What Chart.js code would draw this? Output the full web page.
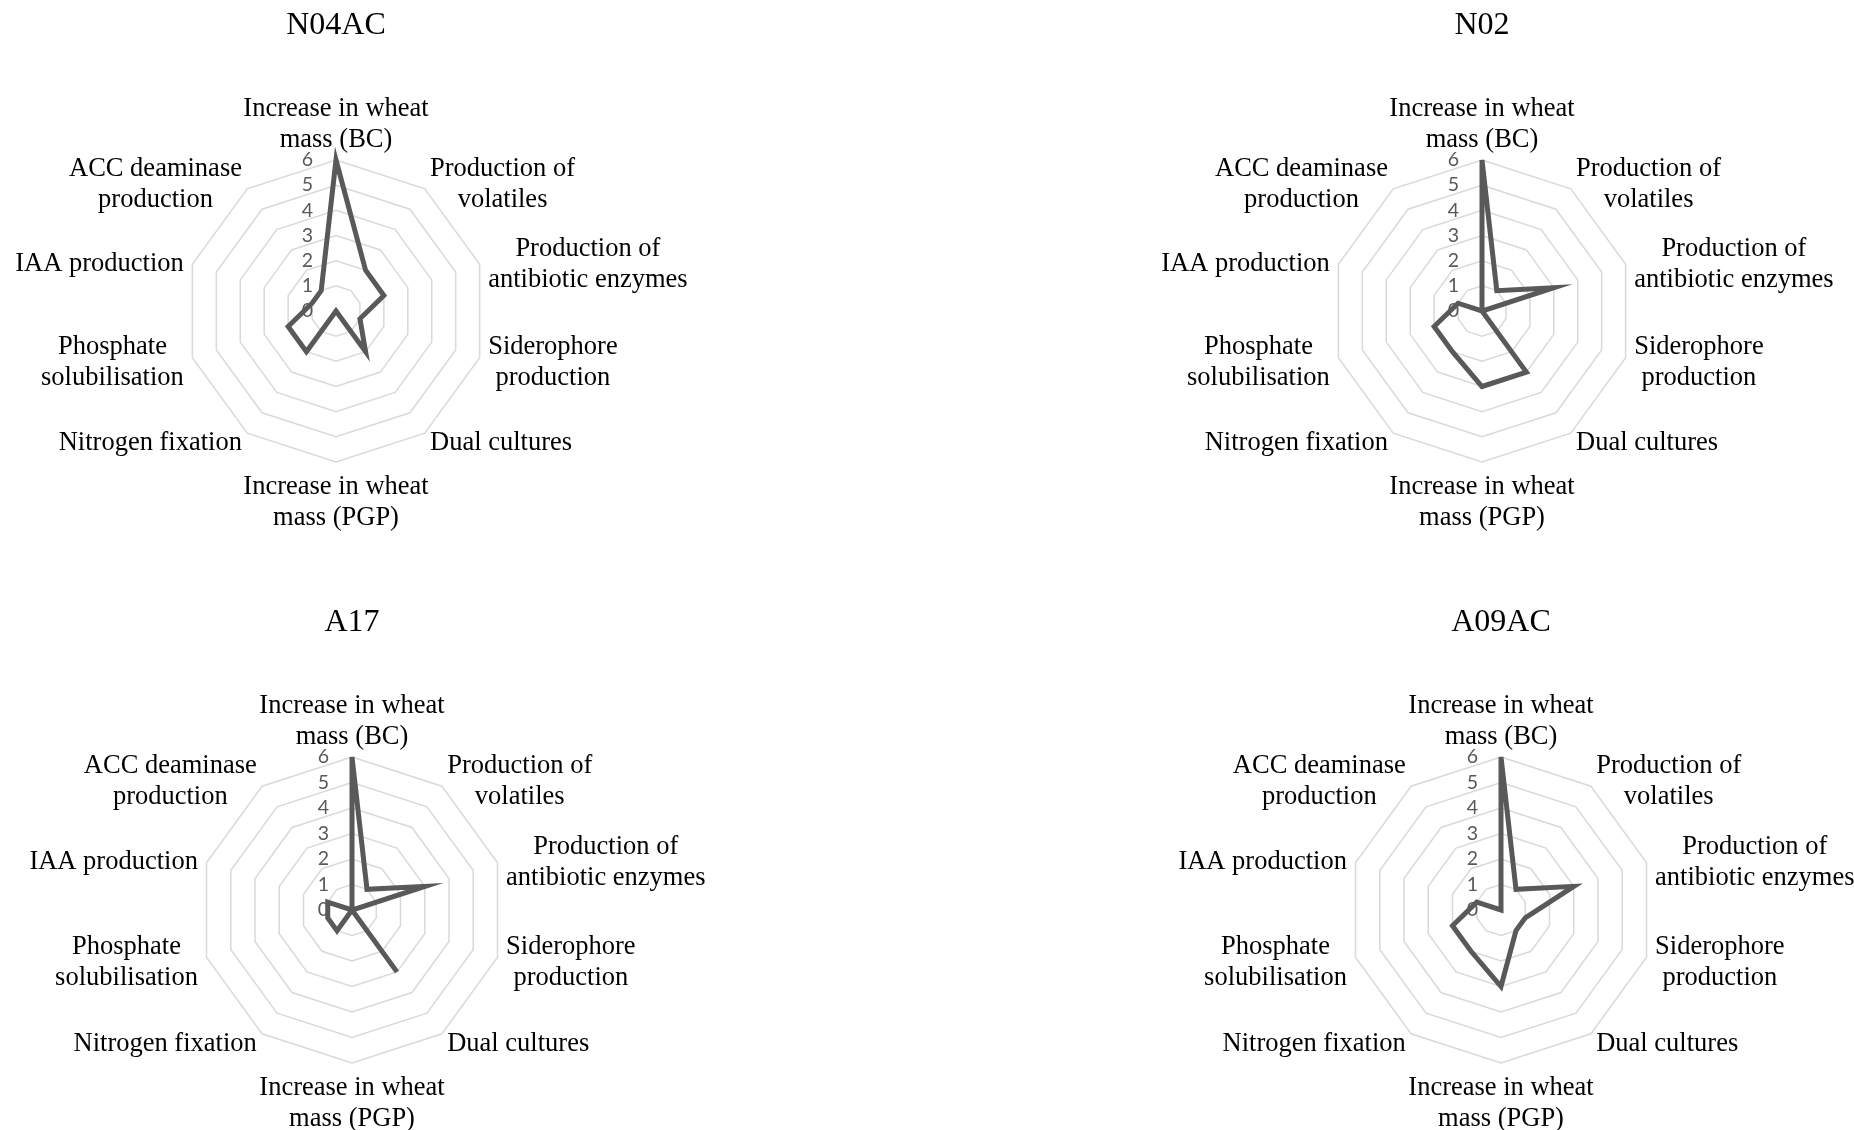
<!DOCTYPE html>
<html>
<head>
<meta charset="utf-8">
<script src="https://cdn.jsdelivr.net/npm/chart.js@4.4.1/dist/chart.umd.min.js"></script>
<style>
  html, body { margin: 0; padding: 0; background: #ffffff; }
  #wrap { position: relative; width: 1854px; height: 1130px; overflow: hidden; background: #ffffff; }
  canvas { position: absolute; }
</style>
</head>
<body>
<div id="wrap">
  <canvas id="c0" width="927" height="565" style="left:0px;top:0px"></canvas>
  <canvas id="c1" width="927" height="565" style="left:927px;top:0px"></canvas>
  <canvas id="c2" width="927" height="565" style="left:0px;top:565px"></canvas>
  <canvas id="c3" width="927" height="565" style="left:927px;top:565px"></canvas>
</div>
<script>
// ---- data ----
const categories = [
  ["Increase in wheat", "mass (BC)"],
  ["Production of", "volatiles"],
  ["Production of", "antibiotic enzymes"],
  ["Siderophore", "production"],
  "Dual cultures",
  ["Increase in wheat", "mass (PGP)"],
  "Nitrogen fixation",
  ["Phosphate", "solubilisation"],
  "IAA production",
  ["ACC deaminase", "production"]
];
const titles = ["N04AC", "N02", "A17", "A09AC"];
const valuesN04AC = [6, 2, 2, 1, 2, 0, 2, 2, 1, 1];
const valuesN02   = [6, 1, 3, 0, 3, 3, 2, 2, 1, 0];
const valuesA17   = [6, 1, 3, 0, 3, 0, 1, 1, 1, 0];
const valuesA09AC = [6, 1, 3, 1, 1, 3, 2, 2, 1, 0];
const seriesValues = [valuesN04AC, valuesN02, valuesA17, valuesA09AC];
const tickMin = 0, tickMax = 6, tickStep = 1;

// ---- layout (canvas-local centre and radius of each radar) ----
const CANVAS_W = 927, CANVAS_H = 565;
const panelGeom = [
  { cx: 336, cy: 311, r: 151 },
  { cx: 555, cy: 311, r: 151 },
  { cx: 352, cy: 345, r: 153 },
  { cx: 574, cy: 345, r: 153 }
];

const LABEL_FONT = '26.5px "Liberation Serif", "Times New Roman", serif';
const LABEL_LH = 31;
const LABEL_SHIFT = 2.5;
const TITLE_FONT = '32px "Liberation Serif", "Times New Roman", serif';
const TICK_FONT = '19.5px Lato, "Open Sans", sans-serif';

const decor = {
  id: 'decor',
  beforeDatasetsDraw(chart) {
    const s = chart.scales.r;
    const ctx = chart.ctx;
    ctx.save();
    ctx.font = TICK_FONT;
    ctx.fillStyle = '#595959';
    ctx.textAlign = 'right';
    ctx.textBaseline = 'middle';
    s.ticks.forEach(t => {
      const d = s.getDistanceFromCenterForValue(t.value);
      ctx.fillText(String(t.value), s.xCenter - 23, s.yCenter - d);
    });
    ctx.restore();
  },
  afterDraw(chart, args, opts) {
    const s = chart.scales.r;
    const ctx = chart.ctx;
    const labels = chart.data.labels;
    const n = labels.length;
    ctx.save();
    ctx.font = LABEL_FONT;
    ctx.fillStyle = '#000000';
    ctx.textBaseline = 'middle';
    ctx.textAlign = 'center';
    for (let i = 0; i < n; i++) {
      const deg = Math.round(i * 360 / n);
      const vertical = (deg === 0 || deg === 180);
      const p = s.getPointPosition(i, s.drawingArea + (vertical ? 7 : 9));
      const lines = [].concat(labels[i]);
      const h = lines.length * LABEL_LH;
      const w = Math.max(...lines.map(l => ctx.measureText(l).width));
      let left, top;
      if (deg === 0) { left = p.x - w / 2; top = p.y - h; }
      else if (deg === 180) { left = p.x - w / 2; top = p.y; }
      else if (deg < 180) { left = p.x; top = p.y - h / 2; }
      else { left = p.x - w; top = p.y - h / 2; }
      lines.forEach((l, k) => {
        ctx.fillText(l, left + w / 2, top + LABEL_LH * (k + 0.5) + LABEL_SHIFT);
      });
    }
    ctx.font = TITLE_FONT;
    ctx.textBaseline = 'alphabetic';
    ctx.textAlign = 'center';
    ctx.fillText(opts.title, s.xCenter, s.yCenter - s.drawingArea - 126);
    ctx.restore();
  }
};

seriesValues.forEach((vals, idx) => {
  const g = panelGeom[idx];
  new Chart(document.getElementById('c' + idx), {
    type: 'radar',
    data: {
      labels: categories,
      datasets: [{
        label: titles[idx],
        data: vals,
        borderColor: '#595959',
        borderWidth: 5,
        borderJoinStyle: 'miter',
        fill: false,
        pointRadius: 0,
        pointHoverRadius: 0,
        tension: 0
      }]
    },
    options: {
      responsive: false,
      animation: false,
      events: [],
      layout: {
        padding: {
          left: g.cx - g.r,
          right: CANVAS_W - (g.cx + g.r),
          top: g.cy - g.r,
          bottom: CANVAS_H - (g.cy + g.r)
        }
      },
      plugins: {
        legend: { display: false },
        tooltip: { enabled: false },
        title: { display: false },
        decor: { title: titles[idx] }
      },
      scales: {
        r: {
          min: tickMin,
          max: tickMax,
          ticks: { stepSize: tickStep, display: false },
          grid: { color: '#d9d9d9', lineWidth: 1.5, circular: false },
          angleLines: { display: false },
          pointLabels: { display: false }
        }
      }
    },
    plugins: [decor]
  });
});
</script>
</body>
</html>
